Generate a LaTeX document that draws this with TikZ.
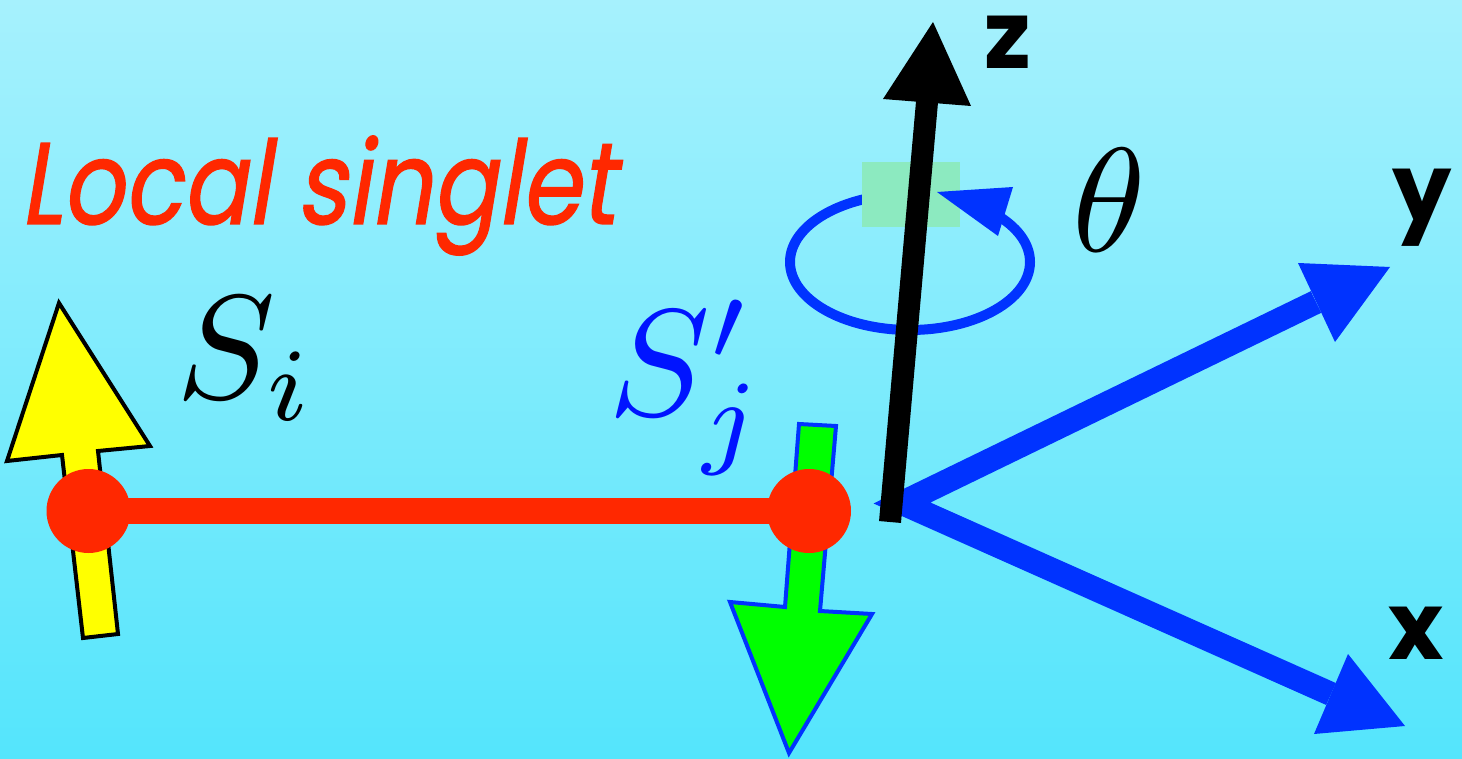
\documentclass[tikz,border=0pt]{standalone}
\usepackage{graphicx}
\usepackage{fontspec}
\newfontfamily\geofont{Poppins}
\newfontfamily\geoslant{Poppins}[FakeSlant=0.2, FakeBold=1.2]
\definecolor{bgtop}{RGB}{166,241,253}
\definecolor{bgbot}{RGB}{84,229,252}
\definecolor{redc}{RGB}{255,40,0}
\definecolor{yel}{RGB}{255,255,0}
\definecolor{grn}{RGB}{0,255,0}
\definecolor{blu}{RGB}{0,51,255}
\definecolor{sqc}{RGB}{140,234,192}
\definecolor{sblue}{RGB}{0,20,255}
\tikzset{
  spinout/.style={line width=4pt, line join=miter},
  axisline/.style={line width=#1, line join=miter},
  axlabel/.style={anchor=base west, inner sep=0pt, font=\geofont\bfseries\fontsize{94}{94}\selectfont},
  mathlabel/.style={anchor=base west, inner sep=0pt}
}
\begin{document}
\begin{tikzpicture}[x=1pt,y=-1pt]
\shade[top color=bgtop,bottom color=bgbot] (0,0) rectangle (1462,759);
\useasboundingbox (0,0) rectangle (1462,759);
% named points
\coordinate (si) at (88.5,511);
\coordinate (sj) at (809,511);
\coordinate (orig) at (902,503);
\coordinate (zbase) at (890,522);
\coordinate (zhead) at (927,102);
\coordinate (yhead) at (1316,302);
\coordinate (xhead) at (1331,694);
% yellow spin arrow
\draw[spinout, fill=yel] (59,303) -- (150,446) -- (98,451) -- (118,634) -- (83,638) -- (62,455) -- (7,461) -- cycle;
% green spin arrow
\draw[spinout, draw=blu, fill=grn] (799,424) -- (836,426) -- (820,611) -- (872,614) -- (789,753) -- (730,602) -- (785,607) -- cycle;
% bond
\draw[redc, line width=26pt] (si) -- (sj);
\fill[redc] (si) circle[radius=42pt];
\fill[redc] (sj) circle[radius=42pt];
% rotation ellipse
\draw[blu, line width=10pt] (910,262) ellipse [x radius=120pt, y radius=68pt];
\fill[sqc] (862,162) rectangle (960,227);
\fill[blu] (937,192) -- (1013,187) -- (998,236) -- cycle;
% x,y axes
\draw[blu, axisline=24pt] (yhead) -- (orig) -- (xhead);
\fill[blu] (1298,263) -- (1390,267) -- (1335,342) -- cycle;
\fill[blu] (1348,654) -- (1405,726) -- (1314,734) -- cycle;
% z axis
\draw[axisline=22pt] (zbase) -- (zhead);
\fill (883,99) -- (933,22) -- (971,106) -- cycle;
% labels
\node[anchor=base west, inner sep=0pt, text=redc, font=\geoslant\fontsize{116}{120}\selectfont] (title) at (20,224) {\scalebox{0.83}[1]{Local singlet}};
\node[mathlabel] (lsi) at (176,398) {\scalebox{14.8}{$S_i$}};
\node[mathlabel, text=sblue] (lsj) at (608,415) {\scalebox{15.2}{$S'_j$}};
\node[mathlabel] (lth) at (1072,252) {\scalebox{14.8}{$\theta$}};
\node[axlabel] (lz) at (984,69) {z};
\node[axlabel] (ly) at (1392,222) {y};
\node[axlabel] (lx) at (1388,659) {x};
\end{tikzpicture}
\end{document}
